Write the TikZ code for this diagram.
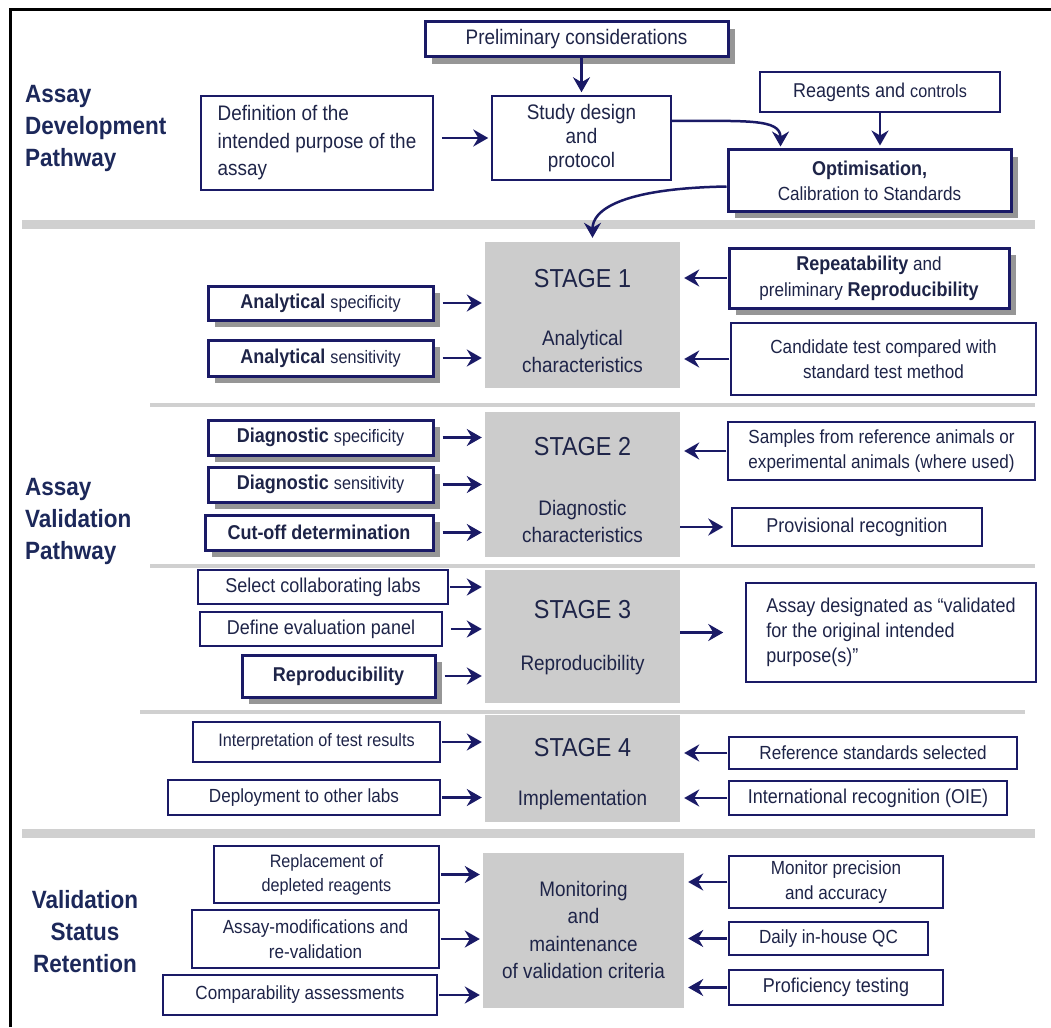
\documentclass[tikz,border=0pt]{standalone}
\usepackage{fontspec}
\setmainfont[FakeStretch=0.9]{Liberation Sans}
\usetikzlibrary{arrows.meta,shadows}
\definecolor{navy}{RGB}{26,26,102}
\definecolor{ink}{RGB}{30,36,72}
\definecolor{headc}{RGB}{28,40,90}
\definecolor{stagegrey}{RGB}{204,204,204}
\definecolor{sepgrey}{RGB}{208,208,208}
\definecolor{shadowgrey}{RGB}{150,150,150}
\newcommand\fsz[2]{\fontsize{#1pt}{#2pt}\selectfont}
\newcommand\bx[7]{\node[#1, minimum width={#5-#3}, minimum height={#6-#4}] (#2) at ({(#3+#5)/2},{(#4+#6)/2}) {#7};}
\begin{document}
\begin{tikzpicture}[x=1pt,y=-1pt,
 box/.style={draw=navy, line width=1.5pt, fill=white, text=ink, inner sep=0pt, align=center, font=\fsz{20}{26}},
 tbox/.style={box, line width=3pt, drop shadow={shadow xshift=7pt, shadow yshift=-7pt, fill=shadowgrey, opacity=1}},
 stagebox/.style={fill=stagegrey, inner sep=0pt},
 stagetitle/.style={text=ink, font=\fsz{26}{30}, inner sep=0pt},
 stagetext/.style={text=ink, font=\fsz{21}{27}, align=center, inner sep=0pt},
 heading/.style={text=headc, font=\bfseries\fsz{25}{32}, inner sep=0pt},
 arr/.style={draw=navy, line width=2.5pt, -{Stealth[length=15pt,width=17pt,inset=5pt]}},
 majorsep/.style={draw=sepgrey, line width=9pt},
 minorsep/.style={draw=sepgrey, line width=4pt},
 la/.style={arr, shorten <=8pt, shorten >=3pt},
 ra/.style={arr, shorten <=1pt, shorten >=4pt}
]
\useasboundingbox (0,0) rectangle (1051,1027);
% frame
\draw[black, line width=3pt] (10,1027) -- (10,10) -- (1051,10);
% separators
\draw[majorsep] (22,224) -- (1035,224);
\draw[minorsep] (150,405) -- (1035,405);
\draw[minorsep] (150,566) -- (1035,566);
\draw[minorsep] (140,712) -- (1025,712);
\draw[majorsep] (22,833) -- (1035,833);
% headings
\node[heading, anchor=west, align=left] (h1) at (25,128) {Assay\\Development\\Pathway};
\node[heading, anchor=west, align=left] (h2) at (25,521) {Assay\\Validation\\Pathway};
\node[heading, align=center] (h3) at (85,932) {Validation\\Status\\Retention};
% development pathway
\bx{tbox, font=\fsz{21}{26}}{prelim}{425}{22}{728}{57}{Preliminary considerations}
\bx{box, align=left, font=\fsz{21}{27.5}}{def}{201}{96}{433}{190}{Definition of the\\intended purpose of the\\assay}
\bx{box, font=\fsz{21}{24}}{study}{492}{96}{671}{180}{Study design\\and\\protocol}
\bx{box}{reag}{760}{72}{1000}{112}{Reagents and {\fsz{18}{24}controls}}
\bx{tbox, font=\fsz{19}{25}}{opt}{728}{150}{1011}{211}{{\bfseries\fsz{20}{25}Optimisation,}\\Calibration to Standards}
% stage 1
\bx{stagebox}{s1}{485}{242}{680}{388}{}
\node[stagetitle] (s1t) at (582.5,279) {STAGE 1};
\node[stagetext] (s1d) at (582.5,351) {Analytical\\characteristics};
\bx{tbox}{aspec}{208}{286}{433}{320}{\textbf{Analytical} {\fsz{18}{24}specificity}}
\bx{tbox}{asens}{208}{340}{433}{376}{\textbf{Analytical} {\fsz{18}{24}sensitivity}}
\bx{tbox, font=\fsz{19}{26}}{rep}{729}{248}{1009}{308}{{\bfseries\fsz{20}{26}Repeatability} and\\preliminary {\bfseries\fsz{20}{26}Reproducibility}}
\bx{box, font=\fsz{19}{25}}{cand}{731}{323}{1036}{395}{Candidate test compared with\\standard test method}
% stage 2
\bx{stagebox}{s2}{485}{412}{680}{557}{}
\node[stagetitle] (s2t) at (582.5,447) {STAGE 2};
\node[stagetext] (s2d) at (582.5,521) {Diagnostic\\characteristics};
\bx{tbox}{dspec}{208}{420}{433}{455}{\textbf{Diagnostic} {\fsz{18}{24}specificity}}
\bx{tbox}{dsens}{208}{467}{433}{502}{\textbf{Diagnostic} {\fsz{18}{24}sensitivity}}
\bx{tbox}{cutoff}{205}{515}{433}{550}{\textbf{Cut-off determination}}
\bx{box, font=\fsz{19}{25}}{samp}{728}{422}{1035}{480}{Samples from reference animals or\\experimental animals (where used)}
\bx{box}{prov}{732}{508}{982}{546}{Provisional recognition}
% stage 3
\bx{stagebox}{s3}{485}{570}{680}{703}{}
\node[stagetitle] (s3t) at (582.5,610) {STAGE 3};
\node[stagetext] (s3d) at (582.5,665) {Reproducibility};
\bx{box}{labs}{198}{570}{448}{604}{Select collaborating labs}
\bx{box}{panel}{200}{612}{442}{646}{Define evaluation panel}
\bx{tbox}{repro}{242}{655}{435}{697}{\textbf{Reproducibility}}
\bx{box, align=left, font=\fsz{20}{25}}{desig}{746}{583}{1036}{682}{Assay designated as “validated\\for the original intended\\purpose(s)”}
% stage 4
\bx{stagebox}{s4}{485}{715}{680}{822}{}
\node[stagetitle] (s4t) at (582.5,748) {STAGE 4};
\node[stagetext] (s4d) at (582.5,800) {Implementation};
\bx{box, font=\fsz{18}{24}}{interp}{193}{722}{440}{762}{Interpretation of test results}
\bx{box, font=\fsz{19}{24}}{deploy}{168}{780}{440}{815}{Deployment to other labs}
\bx{box, font=\fsz{19}{24}}{refstd}{729}{737}{1017}{769}{Reference standards selected}
\bx{box}{intl}{729}{781}{1007}{815}{International recognition (OIE)}
% retention
\bx{stagebox}{mon}{483}{853}{684}{1008}{}
\node[stagetext, font=\fsz{21}{27.5}] (mont) at (583.5,930) {Monitoring\\and\\maintenance\\of validation criteria};
\bx{box, font=\fsz{18}{24}}{repl}{214}{846}{439}{903}{Replacement of\\depleted reagents}
\bx{box, font=\fsz{19}{25}}{amod}{192}{910}{439}{968}{Assay-modifications and\\re-validation}
\bx{box, font=\fsz{19}{24}}{comp}{163}{975}{437}{1015}{Comparability assessments}
\bx{box, font=\fsz{19}{25}}{prec}{729}{856}{943}{908}{Monitor precision\\and accuracy}
\bx{box, font=\fsz{19}{24}}{daily}{729}{922}{928}{955}{Daily in-house QC}
\bx{box}{prof}{729}{970}{943}{1005}{Proficiency testing}
% arrows: development
\draw[arr, shorten >=3pt] (study.north |- prelim.south) -- (study.north);
\draw[la] (def.east |- study.west) -- (study.west);
\draw[arr] ([yshift=17pt]study.east) .. controls ([xshift=75pt,yshift=17pt]study.east) and ([xshift=-89pt,yshift=30pt]opt.north) .. ([xshift=-89pt,yshift=2pt]opt.north);
\draw[arr, shorten >=3pt] (reag.south) -- (reag.south |- opt.north);
\draw[arr] ([yshift=-6pt]opt.west) .. controls ([xshift=-110pt,yshift=-8pt]opt.west) and ([xshift=10pt,yshift=30pt]s1.north) .. ([xshift=10pt,yshift=4pt]s1.north);
% stage 1
\draw[la] (aspec.east) -- (aspec.east -| s1.west);
\draw[la] (asens.east) -- (asens.east -| s1.west);
\draw[ra] (rep.west) -- (rep.west -| s1.east);
\draw[ra] (cand.west) -- (cand.west -| s1.east);
% stage 2
\draw[la] (dspec.east) -- (dspec.east -| s2.west);
\draw[la] (dsens.east) -- (dsens.east -| s2.west);
\draw[la] (cutoff.east) -- (cutoff.east -| s2.west);
\draw[ra] (samp.west) -- (samp.west -| s2.east);
\draw[arr, shorten >=8pt] (prov.west -| s2.east) -- (prov.west);
% stage 3
\draw[arr, shorten <=1pt, shorten >=3pt] (labs.east) -- (labs.east -| s3.west);
\draw[la] (panel.east) -- (panel.east -| s3.west);
\draw[la] (repro.east) -- (repro.east -| s3.west);
\draw[arr, shorten >=22pt] (desig.west -| s3.east) -- (desig.west);
% stage 4
\draw[arr, shorten <=1pt, shorten >=3pt] (interp.east) -- (interp.east -| s4.west);
\draw[arr, shorten <=1pt, shorten >=3pt] (deploy.east) -- (deploy.east -| s4.west);
\draw[ra] (refstd.west) -- (refstd.west -| s4.east);
\draw[ra] (intl.west) -- (intl.west -| s4.east);
% retention
\draw[arr, shorten <=1pt, shorten >=3pt] (repl.east) -- (repl.east -| mon.west);
\draw[arr, shorten <=1pt, shorten >=3pt] (amod.east) -- (amod.east -| mon.west);
\draw[arr, shorten <=1pt, shorten >=3pt] (comp.east) -- (comp.east -| mon.west);
\draw[ra] (prec.west) -- (prec.west -| mon.east);
\draw[ra] (daily.west) -- (daily.west -| mon.east);
\draw[ra] (prof.west) -- (prof.west -| mon.east);
\end{tikzpicture}
\end{document}
